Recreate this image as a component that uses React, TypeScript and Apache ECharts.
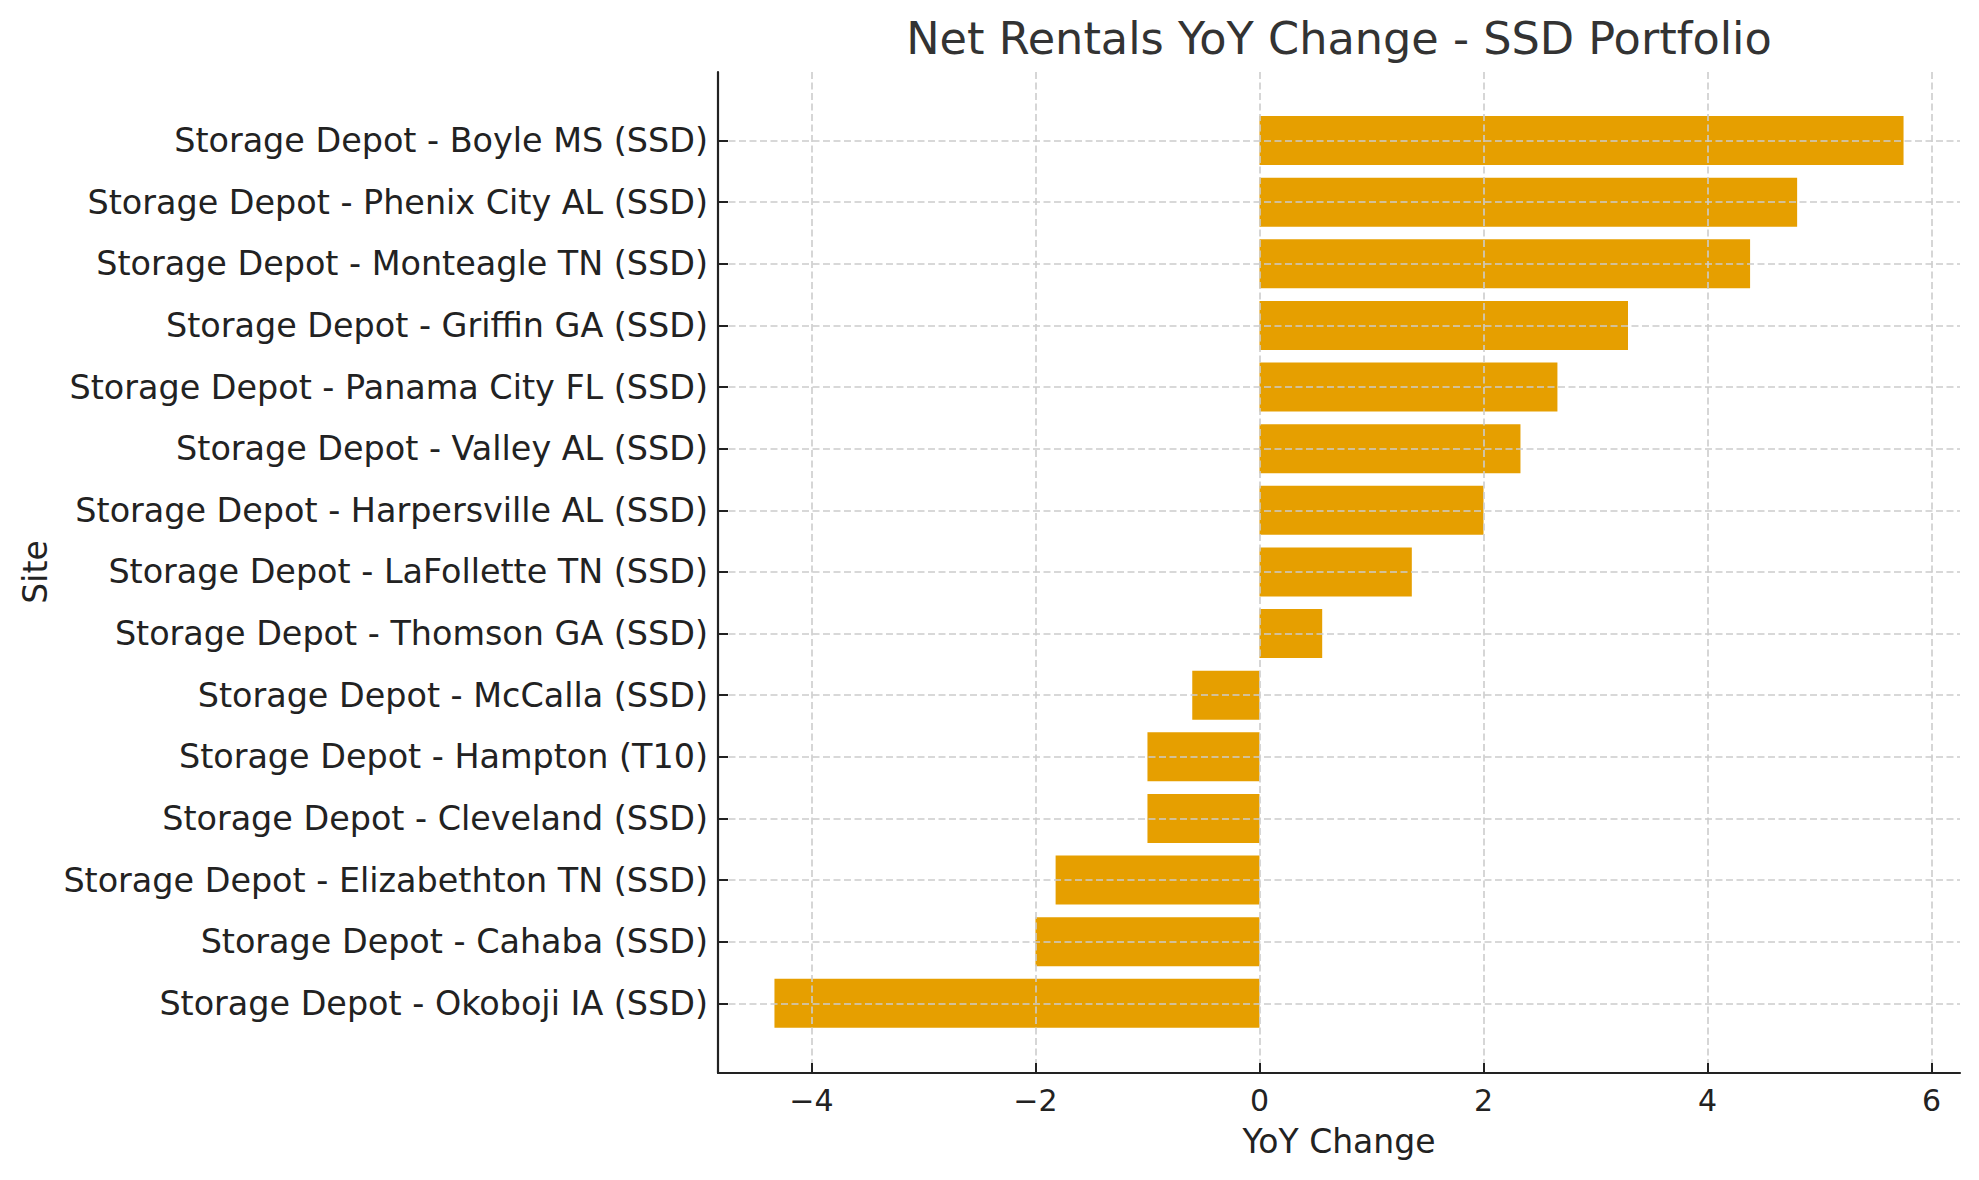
import React, { useEffect, useRef } from "react";
import * as echarts from "echarts";

const sites = [
  "Storage Depot - Boyle MS (SSD)",
  "Storage Depot - Phenix City AL (SSD)",
  "Storage Depot - Monteagle TN (SSD)",
  "Storage Depot - Griffin GA (SSD)",
  "Storage Depot - Panama City FL (SSD)",
  "Storage Depot - Valley AL (SSD)",
  "Storage Depot - Harpersville AL (SSD)",
  "Storage Depot - LaFollette TN (SSD)",
  "Storage Depot - Thomson GA (SSD)",
  "Storage Depot - McCalla (SSD)",
  "Storage Depot - Hampton (T10)",
  "Storage Depot - Cleveland (SSD)",
  "Storage Depot - Elizabethton TN (SSD)",
  "Storage Depot - Cahaba (SSD)",
  "Storage Depot - Okoboji IA (SSD)",
];

const yoyChange = [5.75, 4.8, 4.38, 3.29, 2.66, 2.33, 2.0, 1.36, 0.56, -0.6, -1.0, -1.0, -1.82, -2.0, -4.33];

const titleText = "Net Rentals YoY Change - SSD Portfolio";
const xName = "YoY Change";
const yName = "Site";

const FONT = "DejaVu Sans";

export default function App() {
  const ref = useRef<HTMLDivElement>(null);

  useEffect(() => {
    if (!ref.current) return;
    const chart = echarts.init(ref.current, null, { renderer: "svg" });
    const dataMin = Math.min(...yoyChange);
    const dataMax = Math.max(...yoyChange);
    const pad = (dataMax - dataMin) * 0.05;
    const xMin = dataMin - pad;
    const xMax = dataMax + pad;

    const fmt = (v: number) => (v < 0 ? "\u2212" + Math.abs(v) : String(v));

    const gridLeft = 718;
    const gridRight = 19;

    chart.setOption({
      animation: false,
      backgroundColor: "#ffffff",
      grid: [
        { left: gridLeft, right: gridRight, top: 72, bottom: 107, containLabel: false },
        { left: gridLeft, right: gridRight, top: 140.5, bottom: 176.7, containLabel: false },
      ],
      xAxis: [
        {
          type: "value",
          gridIndex: 0,
          min: xMin,
          max: xMax,
          z: 5,
          name: xName,
          nameLocation: "middle",
          nameGap: 52,
          nameTextStyle: { fontFamily: FONT, fontSize: 33, color: "#222222" },
          axisLine: { show: true, onZero: false, lineStyle: { color: "#222222", width: 2.2 } },
          axisTick: { show: true, inside: true, length: 10, lineStyle: { color: "#222222", width: 2 } },
          axisLabel: {
            showMinLabel: false,
            showMaxLabel: false,
            margin: 12,
            fontFamily: FONT,
            fontSize: 30,
            color: "#222222",
            formatter: fmt,
          },
          splitLine: {
            show: true,
            showMinLine: false,
            showMaxLine: false,
            lineStyle: { color: "#cccccc", width: 1.6, type: [7, 3.5] },
          },
        },
        {
          type: "value",
          gridIndex: 1,
          min: xMin,
          max: xMax,
          show: false,
        },
      ],
      yAxis: [
        {
          type: "value",
          gridIndex: 0,
          min: 0,
          max: 1,
          z: 5,
          axisLine: { show: true, onZero: false, lineStyle: { color: "#222222", width: 2.2 } },
          axisTick: { show: false },
          axisLabel: { show: false },
          splitLine: { show: false },
        },
        {
          type: "category",
          gridIndex: 1,
          data: sites,
          inverse: true,
          boundaryGap: false,
          z: 5,
          axisLine: { show: false, onZero: false },
          axisTick: { show: true, inside: true, length: 10, interval: 0, lineStyle: { color: "#222222", width: 2 } },
          axisLabel: { interval: 0, margin: 10, fontFamily: FONT, fontSize: 33.4, color: "#222222" },
          splitLine: {
            show: true,
            interval: 0,
            lineStyle: { color: "#cccccc", width: 1.6, type: [7, 3.5] },
          },
        },
      ],
      graphic: [
        {
          type: "text",
          x: 1339,
          y: 39,
          style: {
            text: titleText,
            fontFamily: FONT,
            fontSize: 44.6,
            fill: "#333333",
            textAlign: "center",
            textVerticalAlign: "middle",
          },
        },
        {
          type: "text",
          x: 35,
          y: 572,
          rotation: Math.PI / 2,
          style: {
            text: yName,
            fontFamily: FONT,
            fontSize: 33,
            fill: "#222222",
            textAlign: "center",
            textVerticalAlign: "middle",
          },
        },
      ],
      series: [
        {
          type: "bar",
          xAxisIndex: 1,
          yAxisIndex: 1,
          data: yoyChange,
          barWidth: 49,
          itemStyle: { color: "#E69F00" },
          z: 2,
        },
      ],
    });

    return () => chart.dispose();
  }, []);

  return (
    <div
      ref={ref}
      style={{ position: "fixed", left: 0, top: 0, width: 1979, height: 1180, background: "#fff" }}
    />
  );
}
